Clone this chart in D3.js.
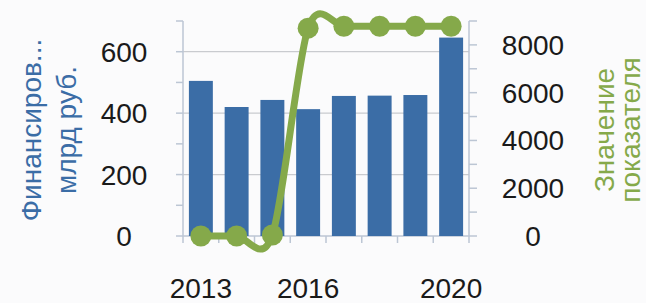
<!DOCTYPE html>
<html>
<head>
<meta charset="utf-8">
<script src="https://cdn.jsdelivr.net/npm/d3@7"></script>
<style>
  body { margin: 0; background: #fbfbfc; }
  svg { display: block; font-family: "Liberation Sans", Arial, sans-serif; }
</style>
</head>
<body>
<div id="chart"></div>
<script>
// data
let years = ["2013", "2014", "2015", "2016", "2017", "2018", "2019", "2020"];
let financing = [505, 420, 443, 413, 456, 457, 459, 646];   // млрд руб.
let indicator = [0, 0, 40, 8700, 8780, 8780, 8780, 8780];    // значение показателя
let xTickLabels = ["2013", "2016", "2020"];
let leftTicks = [0, 200, 400, 600];
let rightTicks = [0, 2000, 4000, 6000, 8000];

let blue = "#3b6da6";
let green = "#85a94a";
let axisColor = "#bcc6d4";
let gridColor = "#c9cbcf";

let width = 646, height = 303;
let plot = {left: 183, right: 469, top: 21, bottom: 236};

let svg = d3.select("#chart").append("svg")
    .attr("width", width)
    .attr("height", height);

let x = d3.scaleBand()
    .domain(years)
    .range([plot.left, plot.right])
    .paddingInner(0.33)
    .paddingOuter(0.165);

let yLeft = d3.scaleLinear()
    .domain([0, 700])
    .range([plot.bottom, plot.top]);

let yRight = d3.scaleLinear()
    .domain([0, 9000])
    .range([plot.bottom, plot.top]);

// gridlines
svg.append("g")
    .selectAll("line")
    .data(leftTicks.filter(d => d > 0))
    .join("line")
    .attr("x1", plot.left)
    .attr("x2", plot.right)
    .attr("y1", d => yLeft(d))
    .attr("y2", d => yLeft(d))
    .attr("stroke", gridColor)
    .attr("stroke-width", 1.2);

// left axis (line + minor ticks every 100)
let leftAxis = svg.append("g");
leftAxis.append("line")
    .attr("x1", plot.left).attr("x2", plot.left)
    .attr("y1", plot.top).attr("y2", plot.bottom)
    .attr("stroke", axisColor).attr("stroke-width", 1.5);
leftAxis.selectAll("line.tick")
    .data(d3.range(0, 701, 100))
    .join("line")
    .attr("class", "tick")
    .attr("x1", plot.left - 7).attr("x2", plot.left)
    .attr("y1", d => yLeft(d)).attr("y2", d => yLeft(d))
    .attr("stroke", axisColor).attr("stroke-width", 1.5);
leftAxis.selectAll("text")
    .data(leftTicks)
    .join("text")
    .attr("x", 124)
    .attr("y", d => yLeft(d) + 10)
    .attr("text-anchor", "middle")
    .attr("font-size", 28)
    .attr("fill", "#1a1a1a")
    .text(d => d);

// right axis (ticks every 1000)
let rightAxis = svg.append("g");
rightAxis.append("line")
    .attr("x1", plot.right).attr("x2", plot.right)
    .attr("y1", plot.top).attr("y2", plot.bottom)
    .attr("stroke", axisColor).attr("stroke-width", 1.5);
rightAxis.selectAll("line.tick")
    .data(d3.range(0, 9001, 1000))
    .join("line")
    .attr("class", "tick")
    .attr("x1", plot.right).attr("x2", plot.right + 8)
    .attr("y1", d => yRight(d)).attr("y2", d => yRight(d))
    .attr("stroke", axisColor).attr("stroke-width", 1.5);
rightAxis.selectAll("text")
    .data(rightTicks)
    .join("text")
    .attr("x", 533)
    .attr("y", d => yRight(d) + 10)
    .attr("text-anchor", "middle")
    .attr("font-size", 28)
    .attr("fill", "#1a1a1a")
    .text(d => d);

// bottom axis
let bottomAxis = svg.append("g");
bottomAxis.append("line")
    .attr("x1", plot.left).attr("x2", plot.right)
    .attr("y1", plot.bottom).attr("y2", plot.bottom)
    .attr("stroke", axisColor).attr("stroke-width", 1.5);
let step = x.step();
bottomAxis.selectAll("line.tick")
    .data(d3.range(years.length + 1))
    .join("line")
    .attr("class", "tick")
    .attr("x1", i => plot.left + i * step).attr("x2", i => plot.left + i * step)
    .attr("y1", plot.bottom).attr("y2", plot.bottom + 7)
    .attr("stroke", axisColor).attr("stroke-width", 1.5);
bottomAxis.selectAll("text")
    .data(xTickLabels)
    .join("text")
    .attr("x", d => x(d) + x.bandwidth() / 2)
    .attr("y", 298)
    .attr("text-anchor", "middle")
    .attr("font-size", 28)
    .attr("fill", "#1a1a1a")
    .text(d => d);

// bars
svg.append("g")
    .selectAll("rect")
    .data(years)
    .join("rect")
    .attr("x", d => x(d))
    .attr("y", (d, i) => yLeft(financing[i]))
    .attr("width", x.bandwidth())
    .attr("height", (d, i) => plot.bottom - yLeft(financing[i]))
    .attr("fill", blue);

// smoothed line + markers
let line = d3.line()
    .x((d, i) => x(years[i]) + x.bandwidth() / 2)
    .y(d => yRight(d))
    .curve(d3.curveCardinal.tension(0.1));

svg.append("path")
    .datum(indicator)
    .attr("d", line)
    .attr("fill", "none")
    .attr("stroke", green)
    .attr("stroke-width", 7)
    .attr("stroke-linejoin", "round");

svg.append("g")
    .selectAll("circle")
    .data(indicator)
    .join("circle")
    .attr("cx", (d, i) => x(years[i]) + x.bandwidth() / 2)
    .attr("cy", d => yRight(d))
    .attr("r", 10.5)
    .attr("fill", green);

// axis titles
let leftTitle = ["Финансиров...", "млрд руб."];
svg.append("g")
    .selectAll("text")
    .data(leftTitle)
    .join("text")
    .attr("transform", (d, i) => `translate(${i === 0 ? 31 : 66}, 130) rotate(-90)`)
    .attr("text-anchor", "middle")
    .attr("dominant-baseline", "central")
    .attr("font-size", 28)
    .attr("fill", blue)
    .text(d => d);

let rightTitle = ["Значение", "показателя"];
svg.append("g")
    .selectAll("text")
    .data(rightTitle)
    .join("text")
    .attr("transform", (d, i) => `translate(${i === 0 ? 604 : 630}, 130) rotate(-90)`)
    .attr("text-anchor", "middle")
    .attr("dominant-baseline", "central")
    .attr("font-size", 28)
    .attr("fill", green)
    .text(d => d);
</script>
</body>
</html>
